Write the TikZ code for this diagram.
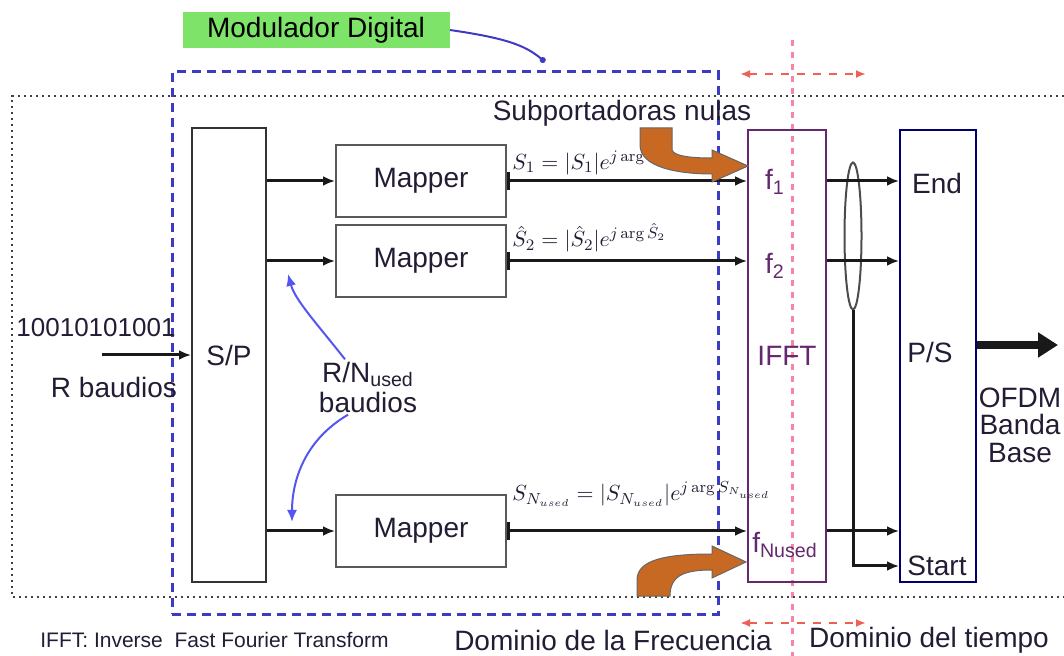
\documentclass[tikz,border=0pt]{standalone}
\usepackage[no-math]{fontspec}
\setmainfont{Liberation Sans}
\usetikzlibrary{arrows.meta,shapes.geometric}

\definecolor{modgreen}{RGB}{125,228,105}
\definecolor{modblue}{RGB}{60,60,195}
\definecolor{rnblue}{RGB}{85,85,240}
\definecolor{txtdark}{RGB}{36,28,52}
\definecolor{fftpurple}{RGB}{100,40,110}
\definecolor{domred}{RGB}{238,95,85}
\definecolor{dompink}{RGB}{245,135,165}
\definecolor{nullorange}{RGB}{200,105,35}

\begin{document}
\begin{tikzpicture}[x=0.5pt, y=-0.5pt,
	every node/.style={font=\fontsize{14}{16}\selectfont, text=txtdark, inner sep=1pt},
	>={Latex[length=6pt,width=5pt]},
	block/.style={draw=black!80, line width=1pt, inner sep=0pt},
	sig/.style={->, line width=1.5pt, black!90},
	domarrow/.style={{Latex[length=5pt,width=4pt]}-{Latex[length=5pt,width=4pt]}, domred, line width=1pt, dash pattern=on 4pt off 4pt},
	rnarrow/.style={->, rnblue, line width=1pt},
	formula/.style={anchor=west, inner sep=0pt, font=\fontsize{11}{13}\selectfont}]
	\useasboundingbox (0,0) rectangle (1064,656);
	\draw[dompink, line width=1.5pt, dash pattern=on 3pt off 3pt] (792,40) -- (792,656);
	\draw[black!75, line width=1pt, dash pattern=on 1.2pt off 1.8pt] (1064,96) -- (12,96) -- (12,597) -- (1064,597);
	\node[draw=modblue, line width=1.5pt, dash pattern=on 4.5pt off 3pt, minimum width=273pt, minimum height=271pt] (moddig) at (445,343) {};
	\node[fill=modgreen, text=black, minimum width=133.5pt, minimum height=18pt] (modlbl) at (316,30) {Modulador Digital};
	\coordinate (moddot) at (545,62);
	\draw[modblue, line width=1pt, -{Circle[length=3pt]}] (modlbl.east) .. controls (505,38) and (525,45) .. (moddot);
	\node[block, minimum width=37pt, minimum height=227pt] (sp) at (229,355) {S/P};
	\node[block, draw=black!65, minimum width=85pt, minimum height=36pt] (map1) at (421,181) {Mapper};
	\node[block, draw=black!65, minimum width=85pt, minimum height=36pt] (map2) at (421,261) {Mapper};
	\node[block, draw=black!65, minimum width=85pt, minimum height=36pt] (map3) at (421,531) {Mapper};
	\node[block, draw=fftpurple, text=fftpurple, minimum width=39pt, minimum height=226pt] (ifft) at (787,356) {IFFT};
	\node[text=fftpurple] (f1) at (775,182) {f\textsubscript{1}};
	\node[text=fftpurple] (f2) at (775,266) {f\textsubscript{2}};
	\node[text=fftpurple] (fn) at (785,545) {f\textsubscript{Nused}};
	\node[block, draw=black!55!blue, minimum width=38pt, minimum height=226pt] (ps) at (938,356) {};
	\node (endlbl) at (937,183) {End};
	\node (pslbl) at (930,352) {P/S};
	\node (startlbl) at (937,566) {Start};
	\node[ellipse, draw=black!70, line width=1pt, minimum width=8.5pt, minimum height=73.5pt, inner sep=0pt] (grp) at (853,236) {};
	\node[font=\fontsize{13}{15}\selectfont] (bitstr) at (96,328) {10010101001};
	\node (rate) at (114,387) {R baudios};
	\coordinate (bits) at (102,355);
	\draw[sig] (bits) -- (sp.west |- bits);
	\foreach \m in {map1,map2,map3}
		\draw[sig] (sp.east |- \m) -- (\m);
	\foreach \m in {map1,map2,map3}
		\draw[sig, |->] (\m) -- (ifft.west |- \m);
	\foreach \m in {map1,map2,map3}
		\draw[sig] (ifft.east |- \m) -- (ps.west |- \m);
	\draw[sig] (grp.south) |- (ps.west |- startlbl);
	\coordinate (ofdm) at (1058,345);
	\draw[line width=4pt, black!90, -{Triangle[length=10pt,width=12pt]}] (ps.east |- ofdm) -- (ofdm);
	\node[align=center, font=\fontsize{14}{13.8}\selectfont] (ofdmlbl) at (1020,425) {OFDM\\Banda\\Base};
	\node[align=center, font=\fontsize{14}{15}\selectfont] (rn) at (368,387) {R/N\textsubscript{used}\\baudios};
	\coordinate (rnup) at (288,274);
	\coordinate (rndown) at (292,522);
	\draw[rnarrow] ([xshift=-11.5pt]rn.north) .. controls (318,325) and (295,300) .. (rnup);
	\draw[rnarrow] ([xshift=-10pt]rn.south) .. controls (305,440) and (292,480) .. (rndown);
	\node[formula] (s1) at (512,163) {$S_1=|S_1|e^{j\arg S_1}$};
	\node[formula] (s2) at (512,238) {$\hat S_2=|\hat S_2|e^{j\arg\hat S_2}$};
	\node[formula] (sn) at (512,494) {$S_{N_{used}}=|S_{N_{used}}|e^{j\arg S_{N_{used}}}$};
	\node (nulas) at (622,113) {Subportadoras nulas};
	\fill[nullorange, draw=black!60, line width=0.5pt] (640,128) -- (672,128) -- (672,150) .. controls (674,156) and (690,158) .. (712,158) -- (712,150) -- (748,166) -- (712,182) -- (712,174) .. controls (680,174) and (640,168) .. (640,145) -- cycle;
	\fill[nullorange, draw=black!60, line width=0.5pt] (637,596) -- (637,580) .. controls (637,560) and (665,554) .. (712,554) -- (712,546) -- (746,562) -- (712,578) -- (712,570) .. controls (685,570) and (670,575) .. (670,596) -- cycle;
	\coordinate (domtl) at (740,74);
	\coordinate (domtr) at (866,74);
	\coordinate (dombl) at (740,623);
	\coordinate (dombr) at (866,623);
	\draw[domarrow] (domtl) -- (domtr);
	\draw[domarrow] (dombl) -- (dombr);
	\node[anchor=west, font=\fontsize{10.5}{12}\selectfont] (ifftnote) at (38,640) {IFFT: Inverse\ \ Fast Fourier Transform};
	\node (freq) at (613,640) {Dominio de la Frecuencia};
	\node (time) at (929,640) {Dominio del tiempo};
\end{tikzpicture}
\end{document}
